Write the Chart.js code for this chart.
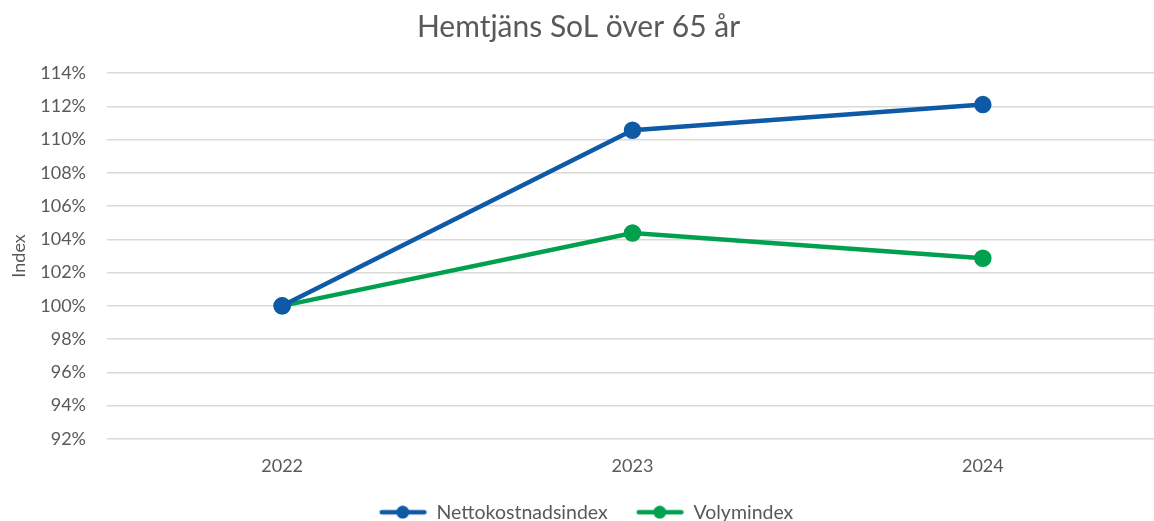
<!DOCTYPE html>
<html>
<head>
<meta charset="utf-8">
<script src="https://cdn.jsdelivr.net/npm/chart.js@4/dist/chart.umd.min.js"></script>
<style>
  html, body { margin: 0; padding: 0; background: #fff; overflow: hidden; }
  #wrap { width: 1169px; height: 532px; }
</style>
</head>
<body>
<div id="wrap"><canvas id="chart"></canvas></div>
<script>
const years = ['2022', '2023', '2024'];
const nettokostnad = [100, 110.56, 112.1];
const volym = [100, 104.38, 102.86];
const yTicks = { min: 92, max: 114, step: 2 };

const blue = '#0E5AA7';
const green = '#00A04F';
const grey = '#595959';
const font = 'Lato, "Open Sans", sans-serif';

// legend marker: line with a dot in the middle (blank space on the left = gap between items)
function marker(color) {
  const c = document.createElement('canvas');
  c.width = 65; c.height = 14;
  const g = c.getContext('2d');
  g.strokeStyle = color;
  g.lineWidth = 4.5;
  g.lineCap = 'round';
  g.beginPath(); g.moveTo(20, 7); g.lineTo(62.5, 7); g.stroke();
  g.fillStyle = color;
  g.beginPath(); g.arc(41, 7, 6.5, 0, Math.PI * 2); g.fill();
  return c;
}

// the canvas is a bit wider than the window, so pull title and legend back to the middle
const recenter = {
  id: 'recenter',
  afterLayout(chart) {
    chart.titleBlock.left -= 9; chart.titleBlock.right -= 9;
    chart.legend.left -= 10; chart.legend.right -= 10;
  }
};

Chart.defaults.font.family = font;
Chart.defaults.color = grey;

new Chart(document.getElementById('chart'), {
  type: 'line',
  data: {
    labels: years,
    datasets: [
      { label: 'Nettokostnadsindex', data: nettokostnad, borderColor: blue, backgroundColor: blue,
        borderWidth: 4.5, pointRadius: 6.5, pointHoverRadius: 6.5, pointStyle: 'circle', tension: 0,
        legendMarker: marker(blue) },
      { label: 'Volymindex', data: volym, borderColor: green, backgroundColor: green,
        borderWidth: 4.5, pointRadius: 6.5, pointHoverRadius: 6.5, pointStyle: 'circle', tension: 0,
        legendMarker: marker(green) }
    ]
  },
  plugins: [recenter],
  options: {
    responsive: true,
    maintainAspectRatio: false,
    animation: false,
    layout: { padding: { left: 6, right: 0, top: 0, bottom: 0 } },
    plugins: {
      title: {
        display: true,
        text: 'Hemtjäns SoL över 65 år',
        color: grey,
        font: { size: 30, weight: 'normal', family: font },
        padding: { top: 9, bottom: 28 }
      },
      legend: {
        position: 'bottom',
        labels: {
          usePointStyle: true,
          pointStyleWidth: 65,
          boxHeight: 14,
          padding: 11,
          color: grey,
          font: { size: 19.5, family: font },
          generateLabels(chart) {
            return chart.data.datasets.map((ds, i) => ({
              text: ds.label,
              pointStyle: ds.legendMarker,
              fillStyle: ds.borderColor,
              strokeStyle: ds.borderColor,
              lineWidth: 0,
              hidden: false,
              datasetIndex: i,
              fontColor: grey
            }));
          }
        }
      },
      tooltip: { enabled: false }
    },
    scales: {
      x: {
        offset: true,
        afterFit(scale) { scale.height += 7; },
        grid: { display: false },
        border: { display: false },
        ticks: { color: grey, font: { size: 18, family: font }, padding: 8 }
      },
      y: {
        min: yTicks.min,
        max: yTicks.max,
        afterFit(scale) { scale.width = 101; },
        grid: { color: '#D9D9D9', lineWidth: 1.5, drawTicks: false },
        border: { display: false },
        ticks: {
          stepSize: yTicks.step,
          color: grey,
          font: { size: 18, family: font },
          padding: 21,
          callback: v => v + '%'
        },
        title: {
          display: true,
          text: 'Index',
          color: grey,
          font: { size: 18, family: font },
          padding: { top: 2, bottom: 4 }
        }
      }
    }
  }
});
</script>
</body>
</html>
